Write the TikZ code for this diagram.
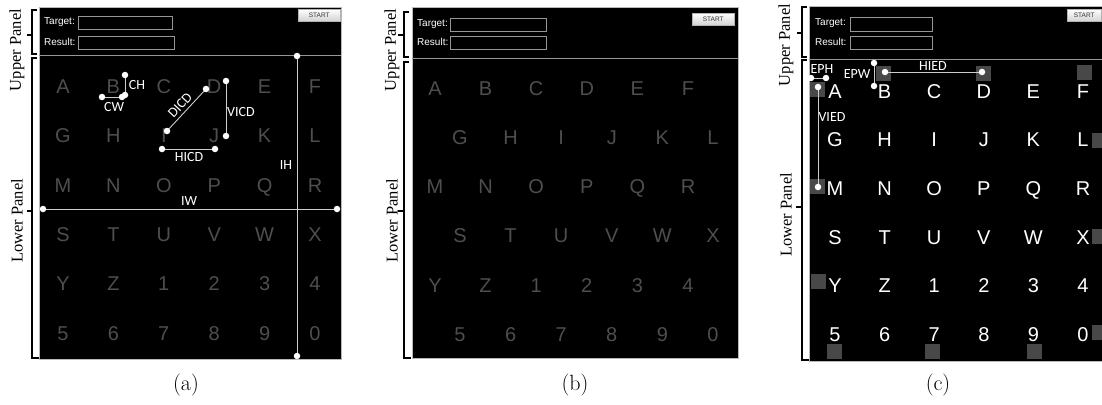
\documentclass[tikz,border=0pt]{standalone}
\usepackage{fontspec}
\newfontfamily\keyfont{Liberation Sans}
\newfontfamily\sidefont{Liberation Serif}
\newfontfamily\tagfont{Carlito}
\definecolor{keydim}{RGB}{78,78,78}
\definecolor{guide}{RGB}{205,205,205}
\definecolor{sepline}{RGB}{150,150,150}
\definecolor{boxedge}{RGB}{150,150,150}
\definecolor{hit}{RGB}{72,72,72}
\begin{document}
\begin{tikzpicture}[x=1pt,y=-1pt,
  screen/.style={fill=black, draw=gray!55, line width=0.7pt},
  key/.style={font=\keyfont\fontsize{20}{20}\selectfont, anchor=base, inner sep=0pt},
  dimkey/.style={key, text=keydim},
  litkey/.style={key, text=white},
  guideline/.style={draw=guide, line width=0.9pt},
  pin/.style={circle, fill=white, inner sep=0pt, minimum size=6.5pt},
  tag/.style={font=\tagfont\fontsize{14}{14}\selectfont, text=white, inner sep=0pt},
  field/.style={draw=boxedge, line width=0.8pt, anchor=north west, inner sep=0pt},
  flabel/.style={font=\keyfont\fontsize{10}{10}\selectfont, text=white, anchor=west, inner sep=0pt},
  startbtn/.style={draw=gray!60, top color=white, bottom color=gray!35, anchor=north west,
    font=\keyfont\fontsize{6.5}{6.5}\selectfont, text=black!80, inner sep=0pt},
  brace/.style={draw=black, line width=1.1pt},
  side/.style={font=\sidefont\fontsize{16.5}{16.5}\selectfont, rotate=90, inner sep=0pt},
  caption/.style={font=\fontsize{22}{22}\selectfont, inner sep=0pt},
  spot/.style={fill=hit, draw=none, inner sep=0pt, minimum size=15pt}]

\useasboundingbox (0,0) rectangle (1102,404);

% ---------------- panel (a) ----------------
\draw[screen] (39,7) rectangle (341,359);
\draw[draw=sepline, line width=0.8pt] (39,55) -- (341,55);
\node[flabel] (a-tl) at (44,22) {Target:};
\node[field, minimum width=94pt, minimum height=13pt] (a-target) at (78,16) {};
\node[flabel] (a-rl) at (44,42) {Result:};
\node[field, minimum width=96pt, minimum height=13pt] (a-result) at (78,36) {};
\node[startbtn, minimum width=42pt, minimum height=12pt] (a-start) at (298,9) {START};

\foreach \row [count=\j from 0] in {{A,B,C,D,E,F},{G,H,I,J,K,L},{M,N,O,P,Q,R},{S,T,U,V,W,X},{Y,Z,1,2,3,4},{5,6,7,8,9,0}}{
  \foreach \k [count=\i from 0] in \row {
    \node[dimkey] (a-\k) at ({63+50.4*\i},{86+49.4*\j+7.2}) {\k};
  }
}

% measurement guides
\coordinate (ch1) at (125,75);  \coordinate (ch2) at (125,95);
\coordinate (cw1) at (102,97);  \coordinate (cw2) at (122,97);
\coordinate (di1) at (167,131); \coordinate (di2) at (206,89);
\coordinate (vi1) at (226,81);  \coordinate (vi2) at (226,136);
\coordinate (hi1) at (162,149); \coordinate (hi2) at (215,149);
\coordinate (ih1) at (297,56);  \coordinate (ih2) at (297,356);
\coordinate (iw1) at (43,209);  \coordinate (iw2) at (337,209);
\foreach \s/\e in {ch1/ch2,cw1/cw2,di1/di2,vi1/vi2,hi1/hi2,ih1/ih2,iw1/iw2}
  \draw[guideline] (\s) -- (\e);
\foreach \p in {ch1,ch2,cw1,cw2,di1,di2,vi1,vi2,hi1,hi2,ih1,ih2,iw1,iw2}
  \node[pin] (\p-pin) at (\p) {};
\node[tag] (t-ch) at (137,85) {CH};
\node[tag] (t-cw) at (114,107) {CW};
\node[tag, rotate=47] (t-dicd) at (180,105) {DICD};
\node[tag] (t-vicd) at (241,112) {VICD};
\node[tag] (t-hicd) at (189,157) {HICD};
\node[tag] (t-ih) at (286,165) {IH};
\node[tag] (t-iw) at (189,201) {IW};

\draw[brace] (37,10) -- (32,10) -- (32,54) -- (37,54);
\draw[brace] (32,35) -- (27,35);
\node[side] (a-up) at (17,50) {Upper Panel};
\draw[brace] (37,58) -- (32,58) -- (32,358) -- (39,358);
\draw[brace] (32,211) -- (27,211);
\node[side] (a-low) at (17,221) {Lower Panel};
\node[caption] (cap-a) at (186,385) {(a)};

% ---------------- panel (b) ----------------
\draw[screen] (412,7) rectangle (738,358);
\draw[draw=sepline, line width=0.8pt] (412,58) -- (738,58);
\node[flabel] (b-tl) at (417,24) {Target:};
\node[field, minimum width=96pt, minimum height=13pt] (b-target) at (450,18) {};
\node[flabel] (b-rl) at (417,42) {Result:};
\node[field, minimum width=96pt, minimum height=13pt] (b-result) at (450,36) {};
\node[startbtn, minimum width=42pt, minimum height=12pt] (b-start) at (692,13) {START};

\foreach \row [count=\j from 0] in {{A,B,C,D,E,F},{G,H,I,J,K,L},{M,N,O,P,Q,R},{S,T,U,V,W,X},{Y,Z,1,2,3,4},{5,6,7,8,9,0}}{
  \pgfmathsetmacro{\shift}{25*mod(\j,2)}
  \foreach \k [count=\i from 0] in \row {
    \node[dimkey] (b-\k) at ({435+\shift+50.6*\i},{88+49.2*\j+7.2}) {\k};
  }
}

\draw[brace] (409,12) -- (404,12) -- (404,57) -- (409,57);
\draw[brace] (404,35) -- (398,35);
\node[side] (b-up) at (392,50) {Upper Panel};
\draw[brace] (409,62) -- (404,62) -- (404,358) -- (411,358);
\draw[brace] (404,211) -- (398,211);
\node[side] (b-low) at (392,221) {Lower Panel};
\node[caption] (cap-b) at (575,385) {(b)};

% ---------------- panel (c) ----------------
\draw[screen] (809,6) rectangle (1103,361);
\draw[draw=sepline, line width=0.8pt] (809,59) -- (1103,59);
\node[flabel] (c-tl) at (815,23) {Target:};
\node[field, minimum width=82pt, minimum height=14pt] (c-target) at (850,17) {};
\node[flabel] (c-rl) at (815,42) {Result:};
\node[field, minimum width=82pt, minimum height=13pt] (c-result) at (850,36) {};
\node[startbtn, minimum width=34pt, minimum height=12pt] (c-start) at (1067,9) {START};

% highlighted key edges
\foreach \nm/\px/\py in {sA/817.5/89.5, sB/883.5/73.5, sD/983/73.5, sF/1084.5/72.5,
    sL/1099.5/140, sM/817.5/186.5, sX/1099.5/236.5, sY/818.5/281,
    s0/1099.5/332.5, s5/834.5/351.5, s7/932/351.5, s9/1034.5/351.5}
  \node[spot] (c-\nm) at (\px,\py) {};

\foreach \row [count=\j from 0] in {{A,B,C,D,E,F},{G,H,I,J,K,L},{M,N,O,P,Q,R},{S,T,U,V,W,X},{Y,Z,1,2,3,4},{5,6,7,8,9,0}}{
  \foreach \k [count=\i from 0] in \row {
    \node[litkey] (c-\k) at ({835+49.6*\i},{91+48.6*\j+7.2}) {\k};
  }
}

\coordinate (eh1) at (811,78);  \coordinate (eh2) at (826,78);
\coordinate (ew1) at (874,63);  \coordinate (ew2) at (874,86);
\coordinate (he1) at (885,72);  \coordinate (he2) at (982,72);
\coordinate (ve1) at (818,87);  \coordinate (ve2) at (818,187);
\foreach \s/\e in {eh1/eh2,ew1/ew2,he1/he2,ve1/ve2}
  \draw[guideline] (\s) -- (\e);
\foreach \p in {eh1,eh2,ew1,ew2,he1,he2,ve1,ve2}
  \node[pin] (\p-pin) at (\p) {};
\node[tag] (t-eph) at (822,69) {EPH};
\node[tag] (t-epw) at (857,74) {EPW};
\node[tag] (t-hied) at (933,66) {HIED};
\node[tag] (t-vied) at (832,117) {VIED};

\draw[brace] (807,7) -- (802,7) -- (802,57) -- (807,57);
\draw[brace] (802,33) -- (797,33);
\node[side] (c-up) at (786,45) {Upper Panel};
\draw[brace] (807,60) -- (802,60) -- (802,360) -- (809,360);
\draw[brace] (802,207) -- (796,207);
\node[side] (c-low) at (786,215) {Lower Panel};
\node[caption] (cap-c) at (938,385) {(c)};
\end{tikzpicture}
\end{document}
